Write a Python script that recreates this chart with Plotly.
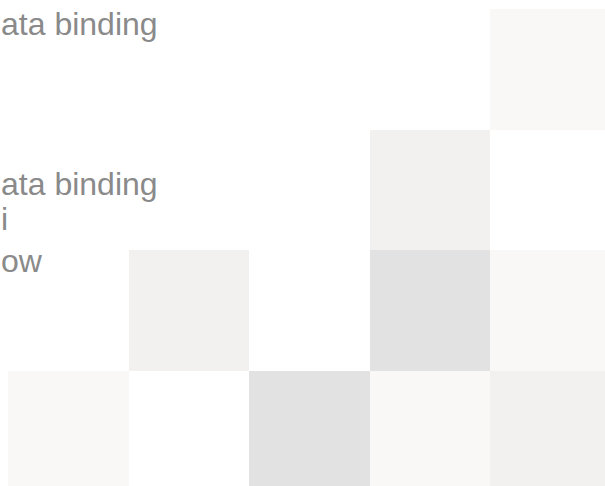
import plotly.graph_objects as go

# Data
columns = ["c1", "c2", "c3", "c4", "c5"]
rows = ["r1", "r2", "r3", "r4"]
levels = [
    [0, 0, 0, 0, 1],
    [0, 0, 0, 2, 0],
    [0, 2, 0, 3, 1],
    [1, 0, 3, 1, 2],
]
label_texts = ["ata binding", "ata binding", "i", "ow"]
label_ypix = [24, 184, 219, 261]

W, H = 605, 486
ML, MT = 8, 9
PW, PH = W - ML, H - MT
CELL = 120.5

colorscale = [
    [0.0, "#ffffff"], [0.25, "#ffffff"],
    [0.25, "#f9f8f7"], [0.5, "#f9f8f7"],
    [0.5, "#f2f1f0"], [0.75, "#f2f1f0"],
    [0.75, "#e2e2e2"], [1.0, "#e2e2e2"],
]

fig = go.Figure(go.Heatmap(
    z=levels,
    x=list(range(len(columns))),
    y=list(range(len(rows))),
    colorscale=colorscale,
    zmin=-0.5, zmax=3.5,
    showscale=False,
    hoverinfo="skip",
))

for t, yp in zip(label_texts, label_ypix):
    fig.add_annotation(
        text=t, xref="paper", yref="paper",
        x=(-1 - ML) / PW, y=1 - (yp - MT) / PH,
        xanchor="left", yanchor="middle", showarrow=False,
        font=dict(family="Liberation Sans, Arial, sans-serif", size=32, color="#8a8a8a"),
    )

fig.update_xaxes(range=[-0.5, -0.5 + PW / CELL], visible=False, fixedrange=True)
fig.update_yaxes(range=[-0.5 + PH / CELL, -0.5], visible=False, fixedrange=True)
fig.update_layout(
    width=W, height=H,
    margin=dict(l=ML, r=0, t=MT, b=0),
    paper_bgcolor="white", plot_bgcolor="white",
    showlegend=False,
)
fig.write_html(
    "out.html",
    config={"displayModeBar": False},
    post_script="document.body.style.margin='0';document.body.style.overflow='hidden';",
)
